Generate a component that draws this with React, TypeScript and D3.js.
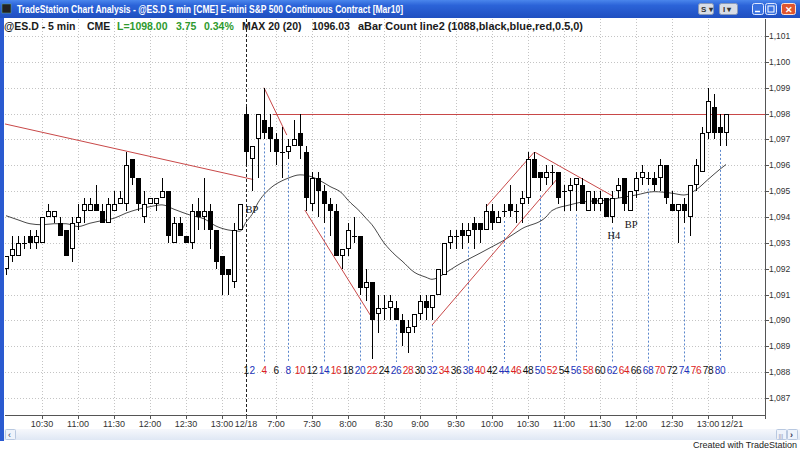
import * as d3 from "d3";

// ---- price data: 40 bars of 12/17 (10:00-13:15) then 81 bars of 12/18 (6:35-13:15), 5 min each
const opens = [
  1092.0, 1092.5, 1092.5, 1093.0, 1093.25, 1093.0, 1093.0, 1094.0, 1094.0, 1093.75,
  1093.5, 1092.75, 1093.75, 1094.25, 1094.25, 1094.5, 1094.25, 1093.75, 1094.25, 1094.5,
  1094.5, 1096.25, 1095.5, 1094.0, 1094.5, 1094.5, 1094.75, 1095.0, 1093.0, 1093.75,
  1093.25, 1093.0, 1094.25, 1094.0, 1094.25, 1093.5, 1092.5, 1092.0, 1091.5, 1093.5,
  1098.0, 1096.25, 1097.0, 1097.75, 1097.5, 1097.0, 1096.5, 1096.5, 1096.75, 1097.25,
  1096.5, 1094.5, 1095.5, 1095.0, 1094.5, 1094.25, 1092.5, 1092.75, 1093.25, 1093.25,
  1091.25, 1091.5, 1090.25, 1090.5, 1090.5, 1090.5, 1090.0, 1089.5, 1089.75, 1090.25,
  1090.75, 1090.5, 1091.0, 1091.75, 1093.0, 1093.25, 1093.5, 1093.25, 1093.75, 1093.75,
  1093.5, 1094.25, 1093.75, 1094.25, 1094.5, 1094.25, 1094.5, 1094.75, 1096.25, 1095.75,
  1095.5, 1095.75, 1095.75, 1095.0, 1095.0, 1095.25, 1095.25, 1094.25, 1094.75, 1094.5,
  1094.75, 1094.0, 1095.0, 1095.5, 1094.25, 1095.0, 1095.5, 1095.5, 1095.5, 1095.5,
  1096.0, 1094.5, 1094.25, 1094.5, 1094.0, 1095.25, 1095.75, 1097.25, 1098.25, 1097.5,
  1097.25,
];
const highs = [
  1092.5, 1093.25, 1093.25, 1093.25, 1093.5, 1093.5, 1094.0, 1094.5, 1094.25, 1094.0,
  1093.5, 1094.0, 1094.5, 1094.75, 1094.75, 1095.25, 1094.5, 1094.75, 1095.0, 1095.0,
  1096.5, 1096.25, 1095.5, 1095.0, 1094.75, 1094.75, 1095.5, 1095.0, 1094.0, 1094.0,
  1093.25, 1094.5, 1094.75, 1095.5, 1094.5, 1093.5, 1092.5, 1092.0, 1093.75, 1094.5,
  1098.25, 1096.75, 1098.0, 1099.0, 1098.0, 1097.25, 1097.5, 1097.0, 1097.75, 1098.0,
  1096.75, 1095.75, 1095.75, 1095.25, 1094.75, 1094.5, 1092.75, 1093.75, 1094.0, 1093.25,
  1092.0, 1091.5, 1091.0, 1091.0, 1091.0, 1090.75, 1090.25, 1090.0, 1090.25, 1091.0,
  1091.0, 1091.0, 1092.0, 1093.0, 1093.5, 1093.5, 1093.75, 1093.75, 1094.0, 1093.75,
  1094.5, 1094.5, 1094.25, 1094.5, 1095.25, 1094.5, 1095.0, 1096.5, 1096.5, 1095.75,
  1096.0, 1096.0, 1095.75, 1095.25, 1095.5, 1095.5, 1095.5, 1095.0, 1095.0, 1095.0,
  1094.75, 1095.0, 1095.5, 1095.5, 1095.0, 1095.75, 1096.0, 1095.75, 1095.75, 1096.25,
  1096.0, 1095.0, 1094.5, 1094.75, 1095.25, 1096.25, 1097.5, 1099.0, 1098.75, 1098.0,
  1098.0,
];
const lows = [
  1091.75, 1092.25, 1092.5, 1092.75, 1092.75, 1092.75, 1093.0, 1094.0, 1093.75, 1093.25,
  1092.5, 1092.25, 1093.5, 1093.75, 1094.25, 1094.25, 1093.75, 1093.75, 1094.25, 1094.5,
  1094.25, 1095.25, 1094.25, 1093.75, 1094.5, 1094.25, 1094.75, 1093.0, 1093.0, 1093.25,
  1093.0, 1092.75, 1093.5, 1093.5, 1092.75, 1092.0, 1091.0, 1091.0, 1091.25, 1093.5,
  1096.0, 1095.0, 1095.5, 1097.0, 1096.5, 1096.0, 1095.5, 1096.25, 1096.75, 1096.25,
  1094.25, 1094.25, 1094.0, 1093.75, 1093.25, 1092.5, 1092.0, 1092.5, 1093.0, 1091.0,
  1090.75, 1088.5, 1089.5, 1090.0, 1090.0, 1090.0, 1089.0, 1088.75, 1089.5, 1090.0,
  1090.0, 1090.0, 1091.0, 1091.75, 1092.75, 1092.75, 1092.75, 1093.0, 1092.75, 1093.0,
  1093.5, 1093.5, 1093.75, 1094.0, 1094.0, 1093.75, 1093.75, 1094.5, 1095.5, 1095.0,
  1095.25, 1095.25, 1094.5, 1094.25, 1094.25, 1094.25, 1094.5, 1094.25, 1094.25, 1094.25,
  1094.0, 1093.75, 1094.75, 1094.25, 1094.25, 1094.75, 1095.25, 1095.25, 1095.0, 1095.0,
  1094.5, 1094.25, 1093.0, 1093.75, 1093.25, 1095.0, 1095.75, 1097.0, 1097.0, 1096.75,
  1096.75,
];
const closes = [
  1092.5, 1092.75, 1093.0, 1093.0, 1093.0, 1093.25, 1094.0, 1094.25, 1094.25, 1093.25,
  1092.5, 1093.75, 1094.0, 1094.5, 1094.5, 1094.25, 1093.75, 1094.5, 1094.5, 1094.75,
  1096.0, 1095.5, 1094.5, 1094.5, 1094.75, 1094.75, 1095.0, 1093.25, 1093.75, 1093.25,
  1093.0, 1094.25, 1094.0, 1094.25, 1093.5, 1092.25, 1091.75, 1091.75, 1093.5, 1094.5,
  1096.5, 1096.75, 1098.0, 1097.25, 1097.0, 1096.5, 1096.5, 1096.75, 1097.0, 1096.75,
  1094.75, 1095.5, 1095.0, 1094.5, 1094.25, 1092.5, 1092.75, 1093.5, 1093.25, 1091.25,
  1091.5, 1090.0, 1090.5, 1090.5, 1090.75, 1090.0, 1089.5, 1089.75, 1090.25, 1090.75,
  1090.5, 1091.0, 1092.0, 1093.0, 1093.25, 1093.25, 1093.25, 1093.5, 1093.5, 1093.5,
  1094.25, 1093.75, 1094.0, 1094.25, 1094.25, 1094.25, 1094.75, 1096.25, 1095.5, 1095.5,
  1095.75, 1095.75, 1094.75, 1095.0, 1095.25, 1095.5, 1094.5, 1095.0, 1094.5, 1094.75,
  1094.0, 1094.75, 1095.25, 1094.5, 1095.0, 1095.5, 1095.75, 1095.5, 1095.25, 1096.0,
  1094.75, 1094.25, 1094.5, 1094.25, 1095.25, 1096.0, 1097.25, 1098.5, 1097.25, 1097.25,
  1098.0,
];

// 20-bar moving average at these bar indexes
const maBars = [
  0, 2, 4, 6, 8, 10, 12, 14, 16, 18, 20, 22, 24, 26, 28, 31, 33, 35, 37, 39,
  40, 41, 42, 44, 46, 47, 49, 51, 52, 54, 56, 57, 59, 60, 61, 63, 65, 66, 68, 70,
  71, 73, 74, 75, 77, 79, 81, 83, 86, 90, 91, 94, 96, 98, 100, 102, 105, 108, 111, 113,
  115, 117, 119, 120,
];
const maValues = [
  1094.05, 1093.89, 1093.74, 1093.7, 1093.74, 1093.74, 1093.63, 1093.76, 1093.86, 1093.95,
  1094.15, 1094.3, 1094.4, 1094.47, 1094.3, 1094.05, 1093.93, 1093.65, 1093.5, 1093.45,
  1093.8, 1094.1, 1094.55, 1095.1, 1095.4, 1095.5, 1095.63, 1095.55, 1095.45, 1095.18,
  1094.92, 1094.65, 1094.21, 1093.95, 1093.7, 1093.0, 1092.5, 1092.3, 1091.87, 1091.67,
  1091.59, 1091.8, 1091.95, 1092.1, 1092.36, 1092.6, 1092.85, 1093.1, 1093.55, 1094.0,
  1094.25, 1094.47, 1094.58, 1094.62, 1094.64, 1094.73, 1094.85, 1094.98, 1094.92, 1094.85,
  1095.05, 1095.45, 1095.85, 1096.03,
];

// hand-drawn trend lines: [bar, price, bar, price]
const trendLines = [
  [-0.2, 1097.6, 41.2, 1095.45],
  [43, 1099.0, 46.8, 1097.17],
  [44.5, 1098.0, 126.5, 1098.0],
  [49.8, 1094.27, 61, 1090.1],
  [71, 1089.82, 91.7, 1095.43],
  [80, 1094.39, 88, 1096.5],
  [88.2, 1096.5, 101.2, 1094.8],
];

const notes = [
  { bar: 41, price: 1094.16, text: "BP" },
  { bar: 101.3, price: 1093.15, text: "H4" },
  { bar: 104.2, price: 1093.58, text: "BP" },
];

const timeTickBars = [6, 12, 18, 24, 30, 36, 40, 45, 51, 57, 63, 69, 75, 81, 87, 93, 99, 105, 111, 117, 121];
const timeTickLabels = [
  "10:30", "11:00", "11:30", "12:00", "12:30", "13:00", "12/18", "7:00", "7:30", "8:00", "8:30",
  "9:00", "9:30", "10:00", "10:30", "11:00", "11:30", "12:00", "12:30", "13:00", "12/21",
];
const dateLabels = ["12/18", "12/21"];

// bar-count indicator (bars of 12/18)
const firstBarOfDay = 40;
const countLabels = [
  1, 2, 4, 6, 8, 10, 12, 14, 16, 18, 20, 22, 24, 26, 28, 30, 32, 34, 36, 38, 40,
  42, 44, 46, 48, 50, 52, 54, 56, 58, 60, 62, 64, 66, 68, 70, 72, 74, 76, 78, 80,
];
const markedBars = [4, 8, 14, 20, 26, 32, 38, 44, 50, 56, 62, 68, 74, 80];
const countColors = ["#111", "#2233bb", "#dd2222"];

const PLOT = { left: 5, right: 765, top: 19, bottom: 415 };
const RED = "#c84848";
const SANS = "'Liberation Sans', Arial, sans-serif";

export default function App() {
  const x = d3.scaleLinear().domain([0, 120]).range([6, 726]);
  const y = d3.scaleLinear().domain([1087, 1101]).range([398, 36]);
  const priceTicks = y.ticks(14);
  const px = (i: number) => Math.round(x(i)) + 0.5;
  const py = (p: number) => Math.round(y(p)) + 0.5;

  const maLine = d3
    .line<number>()
    .x((_d, i) => x(maBars[i]))
    .y((d) => y(d))
    .curve(d3.curveMonotoneX);

  return (
    <>
      <style>{`body{margin:0}`}</style>
      <svg width={800} height={450} style={{ display: "block" }} fontFamily={SANS}>
        <defs>
          <linearGradient id="titleGrad" x1="0" y1="0" x2="0" y2="1">
            <stop offset="0" stopColor="#4a86ec" />
            <stop offset="0.3" stopColor="#2b63d8" />
            <stop offset="1" stopColor="#1f4fc0" />
          </linearGradient>
          <linearGradient id="scrollGrad" x1="0" y1="0" x2="0" y2="1">
            <stop offset="0" stopColor="#f6f8fc" />
            <stop offset="1" stopColor="#dfe7f4" />
          </linearGradient>
          <clipPath id="plotClip">
            <rect x={PLOT.left} y={PLOT.top} width={PLOT.right - PLOT.left} height={PLOT.bottom - PLOT.top} />
          </clipPath>
        </defs>

        <rect width={800} height={450} fill="#fff" />

        {/* grid */}
        <g stroke="#c4c4c4" strokeDasharray="1,2" strokeWidth={1}>
          {priceTicks.map((p) => (
            <line key={p} x1={PLOT.left} x2={PLOT.right} y1={py(p)} y2={py(p)} />
          ))}
          {timeTickBars.map((b, i) =>
            dateLabels.includes(timeTickLabels[i]) ? null : (
              <line key={i} x1={px(b)} x2={px(b)} y1={PLOT.top} y2={PLOT.bottom} />
            )
          )}
        </g>

        {/* session separator */}
        <line x1={px(firstBarOfDay)} x2={px(firstBarOfDay)} y1={PLOT.top} y2={PLOT.bottom} stroke="#222" strokeDasharray="3,2" />

        {/* bar count marker lines */}
        <g stroke="#5a86cc" strokeDasharray="2,2">
          {markedBars.map((n) => {
            const i = firstBarOfDay + n - 1;
            return <line key={n} x1={px(i)} x2={px(i)} y1={y(lows[i]) + 4} y2={362} />;
          })}
        </g>

        <g clipPath="url(#plotClip)">
          {/* moving average */}
          <path d={maLine(maValues) ?? ""} fill="none" stroke="#333" strokeWidth={0.9} />

          {/* trend lines */}
          {trendLines.map((t, i) =>
            t[1] === t[3] ? (
              <line key={i} x1={x(t[0])} y1={py(t[1])} x2={x(t[2])} y2={py(t[3])} stroke={RED} strokeWidth={1} />
            ) : (
              <line key={i} x1={x(t[0])} y1={y(t[1])} x2={x(t[2])} y2={y(t[3])} stroke={RED} strokeWidth={1} />
            )
          )}

          {/* candles */}
          <g shapeRendering="crispEdges">
            {opens.map((o, i) => {
              const c = closes[i];
              const cx = px(i);
              const top = Math.round(y(Math.max(o, c)));
              const bot = Math.round(y(Math.min(o, c)));
              return (
                <g key={i}>
                  <line x1={cx} x2={cx} y1={y(highs[i])} y2={y(lows[i])} stroke="#000" />
                  {c > o ? (
                    <rect x={cx - 2} y={top + 0.5} width={4} height={Math.max(bot - top - 1, 1)} fill="#fff" stroke="#000" />
                  ) : c < o ? (
                    <rect x={cx - 2.5} y={top} width={5} height={bot - top} fill="#000" />
                  ) : (
                    <line x1={cx - 2.5} x2={cx + 2.5} y1={top + 0.5} y2={top + 0.5} stroke="#000" />
                  )}
                </g>
              );
            })}
          </g>
        </g>

        {/* annotations */}
        <g fontFamily="'Liberation Serif', 'Times New Roman', serif" fontSize={10.5} fill="#111" textAnchor="middle">
          {notes.map((n, i) => (
            <text key={i} x={x(n.bar)} y={y(n.price)}>
              {n.text}
            </text>
          ))}
        </g>

        {/* bar count labels */}
        <g fontSize={10} textAnchor="middle" letterSpacing={-0.4}>
          {countLabels.map((n) => (
            <text key={n} x={x(firstBarOfDay + n - 1)} y={374} fill={countColors[Math.floor(n / 2) % 3]}>
              {n}
            </text>
          ))}
        </g>

        {/* price axis */}
        <line x1={PLOT.right + 0.5} x2={PLOT.right + 0.5} y1={PLOT.top} y2={PLOT.bottom + 4} stroke="#555" />
        <g fontSize={8.5} fill="#333">
          {priceTicks.map((p) => (
            <g key={p}>
              <line x1={PLOT.right} x2={PLOT.right + 4} y1={py(p)} y2={py(p)} stroke="#555" />
              <text x={PLOT.right + 4} y={y(p) + 3}>
                {d3.format(",")(p)}
              </text>
            </g>
          ))}
        </g>

        {/* time axis */}
        <line x1={PLOT.left} x2={PLOT.right} y1={PLOT.bottom + 0.5} y2={PLOT.bottom + 0.5} stroke="#555" />
        <g fontSize={9} fill="#333" textAnchor="middle">
          {timeTickBars.map((b, i) => (
            <g key={i}>
              <line x1={px(b)} x2={px(b)} y1={PLOT.bottom} y2={PLOT.bottom + 4} stroke="#555" />
              <text x={x(b)} y={427}>
                {timeTickLabels[i]}
              </text>
            </g>
          ))}
        </g>

        {/* scroll bar */}
        <rect x={4} y={429} width={796} height={11} fill="url(#scrollGrad)" />
        <rect x={5.5} y={429.5} width={10} height={10} fill="#eef3fb" stroke="#b8c8e0" rx={1} />
        <text x={8} y={438} fontSize={9} fill="#335">‹</text>
        <rect x={776.5} y={429.5} width={10} height={10} fill="#eef3fb" stroke="#b8c8e0" rx={1} />
        <text x={778.5} y={437.5} fontSize={6} fill="#88a">|||</text>
        <rect x={787.5} y={429.5} width={10} height={10} fill="#eef3fb" stroke="#b8c8e0" rx={1} />
        <text x={790} y={438} fontSize={9} fontWeight="bold" fill="#335">›</text>
        <text x={797} y={448} fontSize={9} fill="#222" textAnchor="end">
          Created with TradeStation
        </text>

        {/* window frame */}
        <rect x={0} y={0} width={4} height={441} fill="#2a5ad0" />

        {/* header */}
        <g fontSize={10.5} fontWeight="bold" fill="#1a1a1a">
          <text x={4} y={30}>@ES.D - 5 min</text>
          <text x={87} y={30}>CME</text>
          <text x={117} y={30} fill="#2e9a2e">L=1098.00</text>
          <text x={176} y={30} fill="#2e9a2e">3.75</text>
          <text x={204} y={30} fill="#2e9a2e">0.34%</text>
          <text x={242} y={30}>MAX 20 (20)</text>
          <text x={312} y={30}>1096.03</text>
          <text x={358} y={30} textLength={225} lengthAdjust="spacingAndGlyphs">
            aBar Count line2 (1088,black,blue,red,0.5,0)
          </text>
        </g>

        {/* title bar */}
        <rect x={0} y={0} width={800} height={18} fill="url(#titleGrad)" />
        <rect x={2} y={4} width={9} height={9} fill="#222" stroke="#6a8" strokeWidth={0.5} />
        <text x={17} y={13} fontSize={10} fontWeight="bold" fill="#fff" textLength={386} lengthAdjust="spacingAndGlyphs">
          TradeStation Chart Analysis - @ES.D 5 min [CME] E-mini S&amp;P 500 Continuous Contract [Mar10]
        </text>
        <rect x={698.5} y={3.5} width={15} height={11} rx={2} fill="#d8dde6" stroke="#8a9ab8" />
        <text x={701} y={12} fontSize={8} fontWeight="bold" fill="#333">S ▾</text>
        <rect x={719.5} y={3.5} width={18} height={11} rx={2} fill="#d8dde6" stroke="#8a9ab8" />
        <text x={723} y={12} fontSize={8} fontWeight="bold" fill="#333">I ▾</text>
        <rect x={752.5} y={3.5} width={11} height={11} rx={2} fill="#3a72e0" stroke="#dfe8ff" />
        <line x1={755} x2={760} y1={11.5} y2={11.5} stroke="#fff" strokeWidth={1.5} />
        <rect x={765.5} y={3.5} width={11} height={11} rx={2} fill="#3a72e0" stroke="#dfe8ff" />
        <rect x={768} y={6} width={6} height={6} fill="none" stroke="#fff" />
        <rect x={781.5} y={3.5} width={14} height={11} rx={2} fill="#e0552e" stroke="#ffe0d0" />
        <text x={788.5} y={12.5} fontSize={9} fontWeight="bold" fill="#fff" textAnchor="middle">✕</text>
      </svg>
    </>
  );
}
